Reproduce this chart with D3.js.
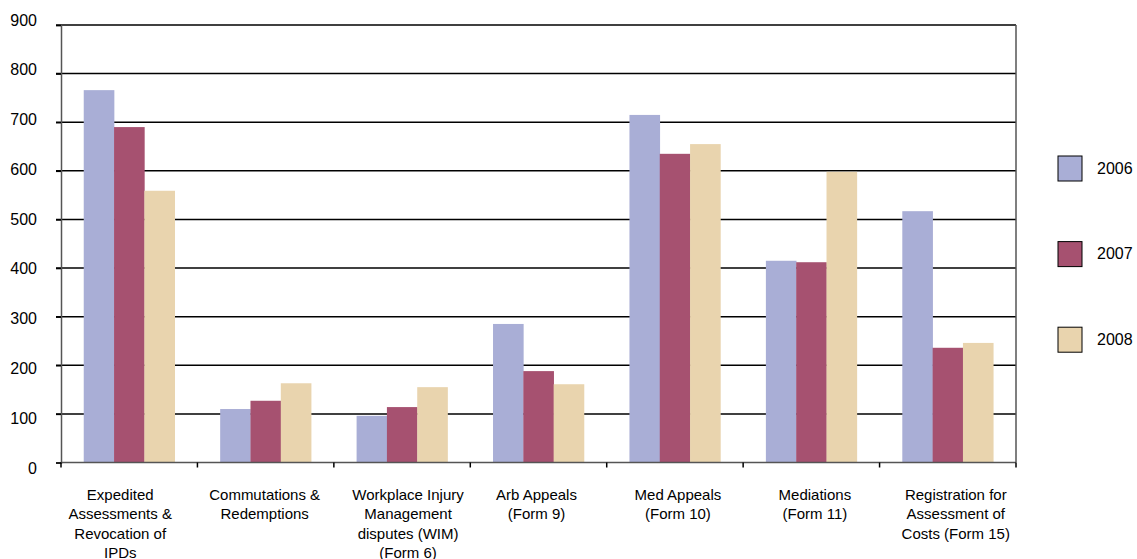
<!DOCTYPE html>
<html>
<head>
<meta charset="utf-8">
<script src="https://cdn.jsdelivr.net/npm/d3@7"></script>
<style>
  body { margin: 0; background: #fff; }
  svg text { font-family: "Liberation Sans", Arial, sans-serif; fill: #000; }
</style>
</head>
<body>
<svg id="chart" width="1137" height="559"></svg>
<script>
const categories = [
  ["Expedited", "Assessments &", "Revocation of", "IPDs"],
  ["Commutations &", "Redemptions"],
  ["Workplace Injury", "Management", "disputes (WIM)", "(Form 6)"],
  ["Arb Appeals", "(Form 9)"],
  ["Med Appeals", "(Form 10)"],
  ["Mediations", "(Form 11)"],
  ["Registration for", "Assessment of", "Costs (Form 15)"]
];
const years = ["2006", "2007", "2008"];
const values2006 = [766, 110, 96, 285, 715, 415, 517];
const values2007 = [690, 127, 114, 188, 635, 412, 236];
const values2008 = [559, 163, 155, 161, 655, 598, 246];
const colors = ["#a9aed6", "#a65170", "#e9d4ae"];
const yTicks = [0, 100, 200, 300, 400, 500, 600, 700, 800, 900];

const series = [values2006, values2007, values2008];
const svg = d3.select("#chart");
const plotL = 61, plotR = 1016, plotT = 25, plotB = 462.5;

const x = d3.scaleBand().domain(d3.range(categories.length)).range([plotL, plotR]);
const xInner = d3.scaleBand().domain(d3.range(years.length))
  .range([0, x.bandwidth()]).paddingOuter(0.75).paddingInner(0);
const y = d3.scaleLinear().domain([0, 900]).range([plotB, plotT]);
// tick labels sit on a slightly wider spread than the gridlines in the original
const yLab = d3.scaleLinear().domain([0, 900]).range([468, 20]);
// the original's wrapped labels are not exactly centred under their groups
const labelNudge = [-9, -1, 6, -2, 3, 3.5, 8];

// gridlines
svg.append("g").selectAll("line")
  .data(yTicks.filter(d => d > 0))
  .join("line")
  .attr("x1", plotL - 5).attr("x2", plotR)
  .attr("y1", d => y(d)).attr("y2", d => y(d))
  .attr("stroke", "#000").attr("stroke-width", 1.5);

// bars
series.forEach((vals, s) => {
  svg.append("g").selectAll("rect")
    .data(vals)
    .join("rect")
    .attr("x", (d, i) => x(i) + xInner(s))
    .attr("width", xInner.bandwidth() + 0.3)
    .attr("y", d => y(d))
    .attr("height", d => plotB - y(d))
    .attr("fill", colors[s]);
});

// right border
svg.append("line").attr("x1", plotR).attr("x2", plotR).attr("y1", plotT).attr("y2", plotB)
  .attr("stroke", "#555").attr("stroke-width", 1.5);

// y axis
const yAxis = d3.axisLeft(y).tickValues(yTicks).tickSize(5).tickFormat("");
const gy = svg.append("g").attr("transform", `translate(${plotL},0)`).call(yAxis);
gy.select(".domain").attr("stroke", "#555").attr("stroke-width", 1.5);
gy.selectAll(".tick line").attr("stroke", "#000").attr("stroke-width", 1.5);
svg.append("g").selectAll("text").data(yTicks).join("text")
  .attr("x", 37).attr("y", d => yLab(d)).attr("dy", "0.35em")
  .attr("text-anchor", "end").attr("font-size", 16).text(d => d);

// x axis: ticks at category boundaries
const xEdges = d3.range(categories.length + 1).map(i => plotL + i * x.step());
svg.append("line").attr("x1", plotL).attr("x2", plotR).attr("y1", plotB).attr("y2", plotB)
  .attr("stroke", "#555").attr("stroke-width", 1.5);
svg.append("g").selectAll("line").data(xEdges).join("line")
  .attr("x1", d => d).attr("x2", d => d).attr("y1", plotB).attr("y2", plotB + 5)
  .attr("stroke", "#000").attr("stroke-width", 1.5);

// category labels
const lab = svg.append("g").selectAll("text").data(categories).join("text")
  .attr("text-anchor", "middle").attr("font-size", 15)
  .attr("transform", (d, i) => `translate(${x(i) + x.bandwidth() / 2 + labelNudge[i]},499.5)`);
lab.selectAll("tspan").data(d => d).join("tspan")
  .attr("x", 0).attr("dy", (d, i) => i === 0 ? 0 : 19.6).text(d => d);

// legend
const leg = svg.append("g").selectAll("g").data(years).join("g")
  .attr("transform", (d, i) => `translate(1058,${156 + i * 85.6})`);
leg.append("rect").attr("width", 24).attr("height", 25)
  .attr("fill", (d, i) => colors[i]).attr("stroke", "#000").attr("stroke-width", 1);
leg.append("text").attr("x", 39).attr("y", 12).attr("dy", "0.35em")
  .attr("font-size", 16).text(d => d);
</script>
</body>
</html>
